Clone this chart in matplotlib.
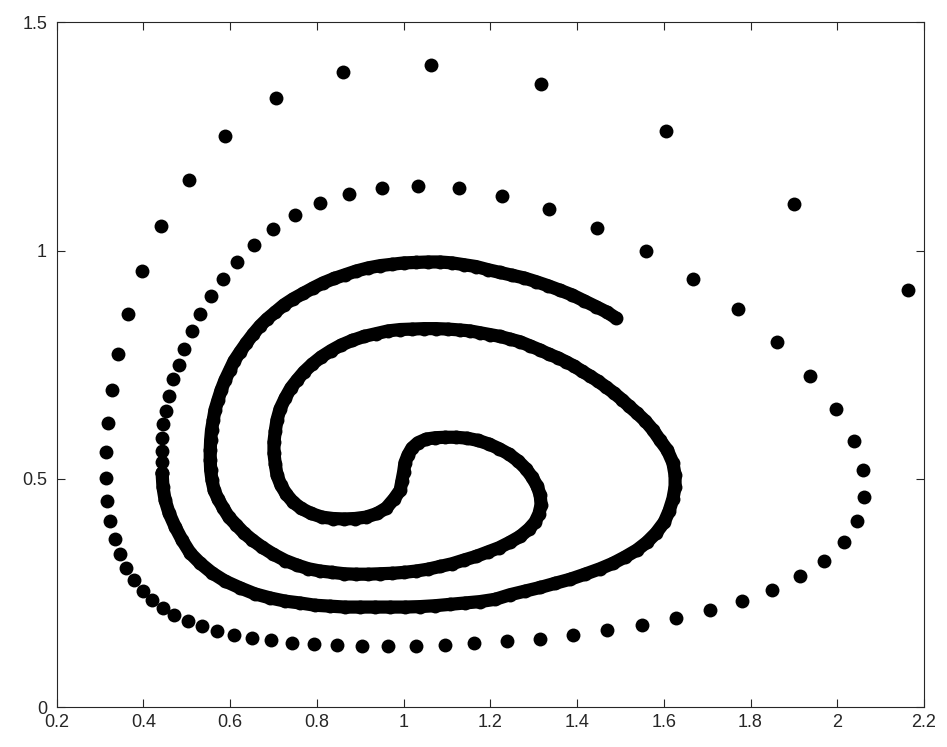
import matplotlib
matplotlib.use("Agg")
import matplotlib.pyplot as plt

plt.rcParams['font.family'] = ['Liberation Sans', 'DejaVu Sans']

# outer part of the trajectory: widely spaced samples
outer_x = [2.163, 1.901, 1.605, 1.316, 1.064, 0.861, 0.705, 0.589, 0.504, 0.441,
           0.397, 0.364, 0.342, 0.328, 0.318, 0.314, 0.314, 0.317, 0.323, 0.334,
           0.345, 0.360, 0.378, 0.398, 0.420, 0.444, 0.470, 0.502, 0.534, 0.570,
           0.609, 0.651, 0.695, 0.743, 0.793, 0.847, 0.904, 0.965, 1.029, 1.096,
           1.163, 1.239, 1.314, 1.391, 1.470, 1.549, 1.628, 1.706, 1.780, 1.850,
           1.914, 1.970, 2.015, 2.045, 2.061, 2.059, 2.039, 1.997, 1.938, 1.861,
           1.771, 1.667, 1.558, 1.445, 1.335, 1.227, 1.128, 1.033, 0.950, 0.874,
           0.807, 0.749, 0.698, 0.654, 0.616, 0.583, 0.555, 0.531, 0.511, 0.494,
           0.482, 0.469, 0.460, 0.452, 0.446, 0.443, 0.442, 0.442, 0.443]
outer_y = [0.913, 1.103, 1.262, 1.366, 1.406, 1.392, 1.335, 1.251, 1.154, 1.054,
           0.955, 0.861, 0.774, 0.694, 0.623, 0.559, 0.502, 0.451, 0.407, 0.368,
           0.335, 0.304, 0.278, 0.255, 0.235, 0.217, 0.202, 0.189, 0.177, 0.167,
           0.158, 0.151, 0.146, 0.141, 0.138, 0.136, 0.134, 0.134, 0.134, 0.136,
           0.140, 0.145, 0.150, 0.158, 0.168, 0.180, 0.194, 0.212, 0.232, 0.257,
           0.287, 0.321, 0.361, 0.407, 0.460, 0.519, 0.583, 0.653, 0.726, 0.800,
           0.871, 0.938, 0.999, 1.049, 1.091, 1.119, 1.136, 1.142, 1.137, 1.125,
           1.105, 1.078, 1.047, 1.012, 0.976, 0.938, 0.900, 0.862, 0.823, 0.785,
           0.750, 0.718, 0.681, 0.649, 0.620, 0.589, 0.561, 0.537, 0.512]

# inner part: samples so close that they merge into a band
inner_x = [0.443, 0.445, 0.450, 0.459, 0.473, 0.489, 0.508, 0.531, 0.558, 0.588,
           0.623, 0.657, 0.692, 0.727, 0.761, 0.796, 0.830, 0.865, 0.900, 0.934,
           0.969, 1.003, 1.038, 1.073, 1.107, 1.142, 1.176, 1.211, 1.245, 1.280,
           1.315, 1.349, 1.384, 1.418, 1.453, 1.483, 1.511, 1.538, 1.561, 1.582,
           1.601, 1.612, 1.621, 1.626, 1.626, 1.621, 1.608, 1.591, 1.575, 1.557,
           1.538, 1.520, 1.504, 1.485, 1.467, 1.448, 1.430, 1.411, 1.393, 1.375,
           1.356, 1.335, 1.315, 1.292, 1.269, 1.245, 1.222, 1.199, 1.176, 1.153,
           1.130, 1.102, 1.075, 1.047, 1.019, 0.992, 0.964, 0.936, 0.909, 0.881,
           0.856, 0.833, 0.810, 0.789, 0.770, 0.754, 0.740, 0.727, 0.715, 0.708,
           0.704, 0.701, 0.701, 0.704, 0.708, 0.717, 0.729, 0.745, 0.764, 0.787,
           0.812, 0.837, 0.863, 0.888, 0.913, 0.939, 0.960, 0.978, 0.992, 0.996,
           1.000, 1.003, 1.010, 1.019, 1.033, 1.052, 1.073, 1.096, 1.121, 1.146,
           1.172, 1.197, 1.220, 1.243, 1.264, 1.282, 1.296, 1.308, 1.315, 1.317,
           1.312, 1.303, 1.289, 1.269, 1.245, 1.220, 1.195, 1.167, 1.139, 1.112,
           1.084, 1.056, 1.029, 1.001, 0.973, 0.946, 0.918, 0.890, 0.863, 0.835,
           0.807, 0.780, 0.754, 0.727, 0.699, 0.674, 0.651, 0.632, 0.614, 0.597,
           0.584, 0.572, 0.563, 0.558, 0.555, 0.554, 0.554, 0.555, 0.557, 0.561,
           0.565, 0.572, 0.579, 0.588, 0.599, 0.609, 0.623, 0.637, 0.653, 0.669,
           0.685, 0.704, 0.724, 0.745, 0.768, 0.791, 0.814, 0.840, 0.865, 0.890,
           0.918, 0.946, 0.973, 1.001, 1.029, 1.056, 1.084, 1.112, 1.139, 1.167,
           1.195, 1.222, 1.250, 1.278, 1.305, 1.333, 1.361, 1.388, 1.416, 1.444,
           1.469, 1.490]
inner_y = [0.513, 0.482, 0.453, 0.425, 0.395, 0.366, 0.337, 0.315, 0.294, 0.276,
           0.261, 0.248, 0.239, 0.232, 0.228, 0.223, 0.221, 0.219, 0.219, 0.219,
           0.219, 0.219, 0.220, 0.222, 0.225, 0.228, 0.231, 0.236, 0.246, 0.254,
           0.262, 0.271, 0.280, 0.291, 0.303, 0.315, 0.329, 0.344, 0.361, 0.381,
           0.405, 0.429, 0.456, 0.482, 0.508, 0.535, 0.563, 0.585, 0.607, 0.627,
           0.644, 0.659, 0.673, 0.688, 0.701, 0.714, 0.725, 0.736, 0.747, 0.756,
           0.765, 0.773, 0.782, 0.791, 0.800, 0.806, 0.812, 0.816, 0.820, 0.824,
           0.826, 0.828, 0.829, 0.829, 0.828, 0.827, 0.824, 0.818, 0.812, 0.803,
           0.793, 0.781, 0.767, 0.751, 0.734, 0.716, 0.699, 0.677, 0.653, 0.629,
           0.605, 0.581, 0.556, 0.532, 0.508, 0.486, 0.467, 0.449, 0.435, 0.424,
           0.416, 0.413, 0.412, 0.413, 0.416, 0.424, 0.436, 0.456, 0.475, 0.495,
           0.515, 0.535, 0.552, 0.567, 0.579, 0.587, 0.590, 0.591, 0.591, 0.589,
           0.584, 0.576, 0.566, 0.554, 0.539, 0.522, 0.504, 0.484, 0.464, 0.443,
           0.423, 0.405, 0.390, 0.374, 0.361, 0.349, 0.340, 0.330, 0.322, 0.314,
           0.308, 0.302, 0.298, 0.295, 0.293, 0.292, 0.291, 0.291, 0.292, 0.295,
           0.298, 0.303, 0.311, 0.321, 0.335, 0.350, 0.366, 0.381, 0.399, 0.416,
           0.436, 0.456, 0.475, 0.497, 0.519, 0.541, 0.563, 0.585, 0.607, 0.629,
           0.651, 0.673, 0.694, 0.716, 0.738, 0.758, 0.778, 0.797, 0.817, 0.835,
           0.850, 0.865, 0.881, 0.894, 0.906, 0.918, 0.929, 0.939, 0.947, 0.955,
           0.962, 0.967, 0.970, 0.973, 0.974, 0.975, 0.975, 0.973, 0.969, 0.965,
           0.958, 0.952, 0.946, 0.940, 0.932, 0.923, 0.913, 0.903, 0.890, 0.877,
           0.865, 0.852]

xticks = [0.2, 0.4, 0.6, 0.8, 1, 1.2, 1.4, 1.6, 1.8, 2, 2.2]
yticks = [0, 0.5, 1, 1.5]

fig = plt.figure(figsize=(9.47, 7.47), dpi=100)
ax = fig.add_axes([0.0599, 0.0535, 0.9158, 0.9166])

ax.plot(outer_x, outer_y, 'o', color='black', markersize=10, markeredgewidth=0)
ax.plot(inner_x, inner_y, '-', color='black', linewidth=9.5, solid_capstyle='round')
ax.plot(inner_x, inner_y, 'o', color='black', markersize=10, markeredgewidth=0)

ax.set_xlim(0.2, 2.2)
ax.set_ylim(0, 1.5)
ax.set_xticks(xticks)
ax.set_xticklabels(['0.2', '0.4', '0.6', '0.8', '1', '1.2', '1.4', '1.6', '1.8', '2', '2.2'])
ax.set_yticks(yticks)
ax.set_yticklabels(['0', '0.5', '1', '1.5'])

edge = '#262626'
for s in ax.spines.values():
    s.set_color(edge)
    s.set_linewidth(0.8)
ax.tick_params(direction='in', length=6, width=0.8, color=edge, labelcolor=edge,
               labelsize=13, top=True, right=True)
ax.tick_params(axis='x', pad=5)
ax.tick_params(axis='y', pad=7)

fig.savefig('out.png', dpi=100)
